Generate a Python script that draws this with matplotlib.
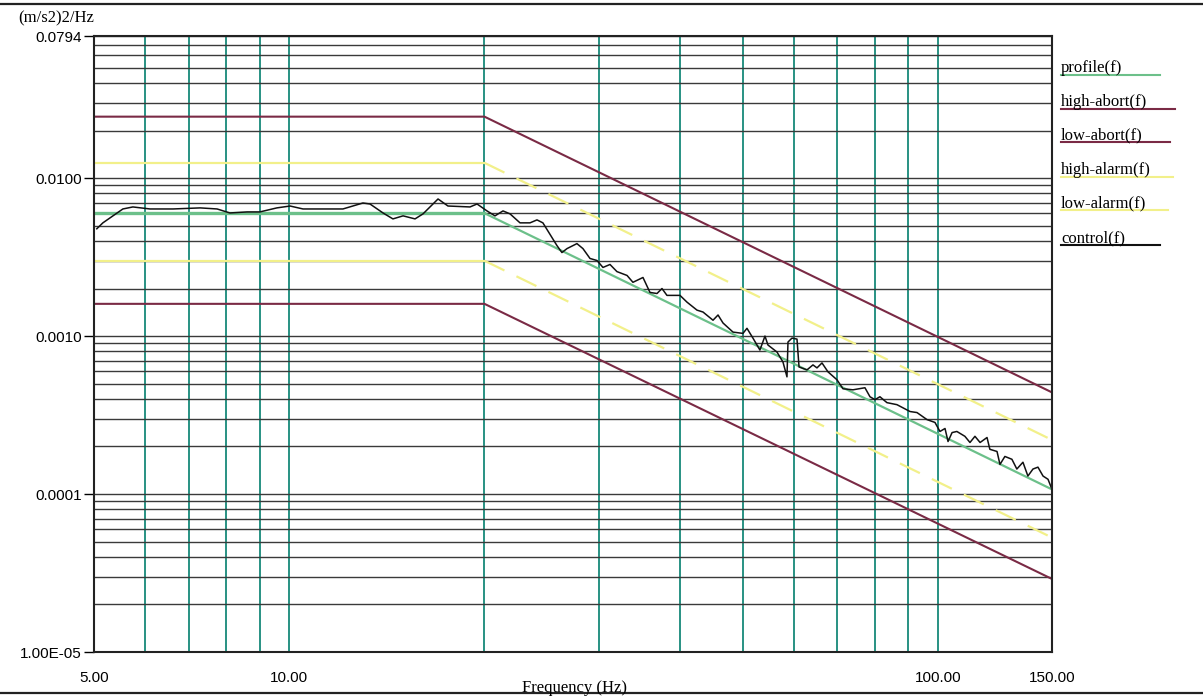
import matplotlib
matplotlib.use("Agg")
import matplotlib.pyplot as plt
from matplotlib.lines import Line2D
from matplotlib.ticker import LogLocator, NullFormatter, FixedLocator

# ---------------- data ----------------
bp_freq = [5.0, 20.0, 150.0]
profile = [0.006, 0.006, 1.07e-4]
high_abort = [0.0245, 0.0245, 4.4e-4]
low_abort = [0.0016, 0.0016, 2.9e-5]
high_alarm = [0.0125, 0.0125, 2.2e-4]
low_alarm = [0.0030, 0.0030, 5.3e-5]

control_freq = [5.05, 5.16, 5.54, 5.74, 6.10, 6.62, 7.29, 7.74, 8.10, 8.61,
                9.01, 9.57, 10.03, 10.50, 11.27, 12.10, 12.99, 13.32, 13.95, 14.45,
                14.98, 15.63, 16.08, 16.96, 17.57, 19.00, 19.48, 20.18, 20.76, 21.36,
                21.90, 22.69, 23.51, 24.10, 24.61, 25.87, 26.33, 26.81, 27.77, 28.37,
                29.09, 29.82, 30.46, 31.23, 32.01, 33.18, 33.88, 35.11, 35.99, 36.90,
                37.56, 38.23, 40.04, 41.05, 42.53, 43.45, 45.02, 45.83, 46.65, 48.33,
                50.07, 50.79, 51.88, 53.18, 54.14, 54.72, 56.49, 57.71, 58.54, 58.75,
                59.59, 60.66, 61.10, 62.85, 64.20, 65.12, 66.29, 67.71, 69.91, 71.42,
                73.99, 77.21, 78.60, 80.00, 81.43, 83.48, 86.50, 90.61, 92.88, 96.23,
                99.00, 100.77, 102.6, 103.7, 105.2, 107.0, 110.1, 112.1, 114.1, 116.2,
                119.1, 120.3, 123.4, 124.7, 126.9, 130.1, 132.4, 135.3, 137.7, 140.2,
                142.7, 145.3, 147.9, 150.0]
control_val = [0.00478, 0.00521, 0.00638, 0.00657, 0.00638, 0.00638, 0.00648, 0.00638, 0.00602, 0.00611,
               0.00611, 0.00648, 0.00666, 0.00638, 0.00638, 0.00638, 0.00696, 0.00686, 0.00602, 0.00552,
               0.00577, 0.00552, 0.00594, 0.00738, 0.00666, 0.00657, 0.00686, 0.00620, 0.00577, 0.00620,
               0.00594, 0.00521, 0.00521, 0.00544, 0.00521, 0.00374, 0.00338, 0.00358, 0.00385, 0.00358,
               0.00310, 0.00301, 0.00272, 0.00284, 0.00256, 0.00242, 0.00219, 0.00235, 0.00189, 0.00186,
               0.00200, 0.00181, 0.00181, 0.00164, 0.00146, 0.00142, 0.00126, 0.00136, 0.00121, 0.00106,
               0.00104, 0.00112, 0.000971, 0.000816, 0.00100, 0.000878, 0.000793, 0.000686, 0.000552, 0.000917,
               0.000971, 0.000957, 0.000638, 0.000611, 0.000657, 0.000629, 0.000676, 0.000594, 0.000529, 0.000464,
               0.000457, 0.000471, 0.000413, 0.000396, 0.000413, 0.000379, 0.000368, 0.000333, 0.000328, 0.000296,
               0.000284, 0.000249, 0.000260, 0.000215, 0.000245, 0.000249, 0.000232, 0.000212, 0.000232, 0.000212,
               0.000228, 0.000192, 0.000186, 0.000154, 0.000173, 0.000166, 0.000144, 0.000159, 0.000130, 0.000144,
               0.000148, 0.000130, 0.000124, 0.000107]

x_ticks = [5, 10, 100, 150]
x_ticklabels = ["5.00", "10.00", "100.00", "150.00"]
y_ticks = [1e-5, 1e-4, 1e-3, 1e-2, 0.0794]
y_ticklabels = ["1.00E-05", "0.0001", "0.0010", "0.0100", "0.0794"]

legend_labels = ["profile(f)", "high-abort(f)", "low-abort(f)",
                 "high-alarm(f)", "low-alarm(f)", "control(f)"]

# ---------------- style ----------------
C_PROFILE = "#6cc08a"
C_ABORT = "#7a2a45"
C_ALARM = "#f2f08a"
C_CONTROL = "#111111"
C_VGRID = "#17897a"
C_HGRID = "#3a3a3a"

W, H = 1203, 700
fig = plt.figure(figsize=(W / 100, H / 100), dpi=100)
fig.patch.set_facecolor("white")

def fx(px):
    return px / W

def fy(py):
    return 1 - py / H

ax = fig.add_axes([fx(94), fy(652), fx(1052) - fx(94), fy(36) - fy(652)])
ax.set_xscale("log")
ax.set_yscale("log")
ax.set_xlim(5, 150)
ax.set_ylim(1e-5, 0.0794)

# ticks
ax.xaxis.set_major_locator(FixedLocator(x_ticks))
ax.xaxis.set_minor_locator(LogLocator(base=10, subs=[1, 2, 3, 4, 5, 6, 7, 8, 9]))
ax.xaxis.set_minor_formatter(NullFormatter())
ax.set_xticklabels(x_ticklabels)
ax.yaxis.set_major_locator(FixedLocator(y_ticks))
ax.yaxis.set_minor_locator(LogLocator(base=10, subs=[1, 2, 3, 4, 5, 6, 7, 8, 9]))
ax.yaxis.set_minor_formatter(NullFormatter())
ax.set_yticklabels(y_ticklabels)

# grids (major and minor, so decade lines are drawn too)
ax.grid(False)
ax.xaxis.grid(True, which="both", color=C_VGRID, linewidth=1.3)
ax.yaxis.grid(True, which="both", color=C_HGRID, linewidth=1.0)
ax.set_axisbelow(True)

ax.tick_params(axis="x", which="both", length=0, pad=14, labelsize=11)
ax.tick_params(axis="y", which="major", length=7, width=1, pad=2, labelsize=11, direction="out")
ax.tick_params(axis="y", which="minor", length=0)
for lab in ax.get_xticklabels() + ax.get_yticklabels():
    lab.set_fontfamily("Liberation Sans")

for s in ax.spines.values():
    s.set_linewidth(1.5)
    s.set_color("#222222")
    s.set_zorder(10)

# series: alarms solid on the flat part, broken on the roll-off as in the printout
ax.plot(bp_freq[:2], high_alarm[:2], color=C_ALARM, linewidth=1.6, zorder=3)
ax.plot(bp_freq[1:], high_alarm[1:], color=C_ALARM, linewidth=1.6, zorder=3, dashes=(10, 6))
ax.plot(bp_freq[:2], low_alarm[:2], color=C_ALARM, linewidth=1.6, zorder=3)
ax.plot(bp_freq[1:], low_alarm[1:], color=C_ALARM, linewidth=1.6, zorder=3, dashes=(10, 6))
ax.plot(bp_freq, high_abort, color=C_ABORT, linewidth=1.5, zorder=4)
ax.plot(bp_freq, low_abort, color=C_ABORT, linewidth=1.5, zorder=4)
ax.plot(bp_freq[:2], profile[:2], color=C_PROFILE, linewidth=2.4, zorder=5)
ax.plot(bp_freq[1:], profile[1:], color=C_PROFILE, linewidth=1.6, zorder=5)
ax.plot(control_freq, control_val, color=C_CONTROL, linewidth=1.1, zorder=6)

# texts
serif = "Liberation Serif"
fig.text(fx(18), fy(18), "(m/s2)2/Hz", fontsize=12, family=serif, va="center", ha="left")
fig.text(fx(574), fy(688), "Frequency (Hz)", fontsize=12, family=serif, va="center", ha="center")

# frame lines across the figure
fig.add_artist(Line2D([0, 1], [fy(4), fy(4)], color="#222222", linewidth=1.6, transform=fig.transFigure))
fig.add_artist(Line2D([0, 1], [fy(693), fy(693)], color="#222222", linewidth=1.6, transform=fig.transFigure))

# legend (underlined labels)
leg_colors = [C_PROFILE, C_ABORT, C_ABORT, C_ALARM, C_ALARM, C_CONTROL]
leg_base = [72, 106, 139, 174, 207, 242]
leg_end = [1160, 1175, 1170, 1173, 1168, 1160]
for lab, col, yb, xe in zip(legend_labels, leg_colors, leg_base, leg_end):
    fig.text(fx(1061), fy(yb), lab, fontsize=12, family=serif, va="baseline", ha="left")
    fig.add_artist(Line2D([fx(1061), fx(xe)], [fy(yb + 3), fy(yb + 3)], color=col,
                          linewidth=1.5, transform=fig.transFigure))

fig.savefig("out.png", dpi=100, facecolor="white")
